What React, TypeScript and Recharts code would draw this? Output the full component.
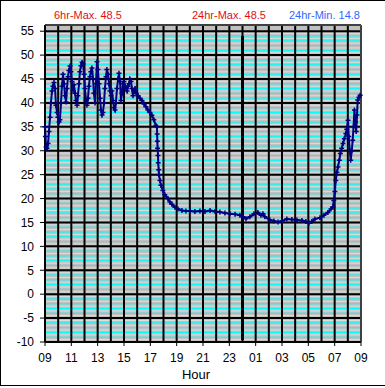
import React from "react";
import {
  LineChart,
  Line,
  XAxis,
  YAxis,
  CartesianGrid,
  ReferenceLine,
  Label,
} from "recharts";

// minutes since 09:00
const minutes = [
  0, 2, 5, 9, 14, 18, 23, 27, 32, 36, 41, 46, 50, 55, 59, 64, 68, 73, 77, 82,
  87, 91, 96, 100, 105, 109, 114, 118, 123, 128, 132, 137, 141, 146, 150, 155,
  159, 164, 169, 173, 178, 182, 187, 191, 196, 200, 205, 209, 214, 219, 223,
  228, 232, 237, 241, 246, 251, 255, 260, 264, 269, 273, 278, 282, 287, 292,
  296, 301, 305, 310, 314, 319, 323, 328, 333, 337, 342, 346, 351, 355, 360,
  365, 369, 374, 378, 383, 387, 392, 396, 401, 405, 410, 415, 424, 433, 442,
  451, 460, 469, 478, 487, 496, 505, 510, 511, 512, 513, 515, 516, 518, 519,
  524, 528, 537, 546, 560, 569, 578, 592, 606, 624, 642, 661, 683, 706, 729,
  752, 775, 797, 820, 843, 866, 888, 902, 916, 934, 952, 970, 984, 993, 1002,
  1025, 1043, 1062, 1080, 1102, 1125, 1148, 1171, 1189, 1203, 1216, 1230, 1253,
  1271, 1289, 1303, 1312, 1316, 1321, 1325, 1330, 1335, 1341, 1346, 1352, 1358,
  1364, 1371, 1375, 1381, 1384, 1389, 1393, 1398, 1402, 1406, 1410, 1415, 1418,
  1422, 1425, 1431, 1436,
];

const temps = [
  35.0, 33, 30.8, 30.5, 31.5, 34, 37, 40, 42.5, 43.5, 44.3, 43, 39.5, 38, 37,
  36, 36.5, 40, 43.5, 46, 44, 41.5, 40.2, 43, 45.5, 46.8, 47.7, 46.5, 44.5,
  42.6, 43.8, 42, 40.5, 39.5, 41.5, 44, 46.5, 47.8, 48.5, 48.2, 46, 43, 40.5,
  39.5, 41, 43.5, 45.5, 46.5, 47.3, 45, 42, 40, 44, 48.6, 47, 44, 41, 38.5,
  37.5, 38, 40, 43, 45.5, 47, 46, 44, 42.5, 41.5, 42.5, 40.5, 39, 38.5, 40, 43,
  45, 46.2, 44.5, 40.5, 42, 44, 44.5, 43.5, 43, 42.5, 43.5, 44, 45, 44.5, 43,
  41.5, 42.5, 43, 42, 41.5, 41, 40.5, 39.8, 39.2, 38.5, 38, 37.4, 36.5, 35.3,
  35, 33.5, 32, 30.5, 29, 27.5, 26, 25, 23.8, 22.8, 21.7, 20.8, 20, 19.3, 18.8,
  18.2, 17.8, 17.5, 17.4, 17.4, 17.3, 17.4, 17.3, 17.5, 17.3, 17.2, 17, 16.8,
  16.7, 16.5, 16.2, 15.8, 16.2, 16.8, 17.1, 16.5, 16.8, 16.2, 15.5, 15.3, 15.1,
  15.3, 15.7, 15.6, 15.5, 15.4, 15.2, 14.9, 15.2, 15.7, 16, 16.5, 17.1, 17.8,
  18.3, 19.6, 21.5, 23.8, 25.5, 26.6, 28, 29.4, 30.5, 31.5, 32.5, 33.6, 34.5,
  36.4, 33, 30, 28, 30, 32.2, 35, 38.5, 36, 34, 37.5, 40.6, 41.2, 41.6,
];

const hourTicks = [0, 120, 240, 360, 480, 600, 720, 840, 960, 1080, 1200, 1320, 1440];
const hourLabels = ["09", "11", "13", "15", "17", "19", "21", "23", "01", "03", "05", "07", "09"];
const hourGrid = Array.from({ length: 25 }, (_, i) => i * 60);

const yTicks = [-10, -5, 0, 5, 10, 15, 20, 25, 30, 35, 40, 45, 50, 55];
const yMax = 56.3;
const midnight = 900;

const cyanTicks: number[] = [];
const halfTicks: number[] = [];
for (let v = -10; v < 55; v++) {
  if (v % 5 !== 0) cyanTicks.push(v);
  halfTicks.push(v + 0.5);
}

const data = minutes.map((t, i) => ({ t, v: temps[i] }));

const PlusDot = (props: any) => {
  const { cx, cy, index } = props;
  if (cx == null || cy == null) return <g key={index} />;
  return (
    <path
      key={index}
      d={`M${cx - 2.5},${cy}H${cx + 2.5}M${cx},${cy - 2.5}V${cy + 2.5}`}
      stroke="#000080"
      strokeWidth={1.5}
      fill="none"
    />
  );
};

const MidnightLine = (props: any) => {
  const { x1, y1, x2, y2 } = props;
  return <line x1={x1} y1={y1 - 2} x2={x2} y2={y2 + 11} stroke="#000" strokeWidth={3} />;
};

const font = "'Liberation Sans', Arial, sans-serif";

const App = () => {
  return (
    <div
      style={{
        position: "absolute",
        left: 0,
        top: 0,
        width: 385,
        height: 388,
        background: "#fff",
        fontFamily: font,
      }}
    >
      <div
        style={{
          position: "absolute",
          left: 0,
          top: 0,
          width: 385,
          height: 386,
          borderLeft: "1px solid #000",
          borderTop: "1px solid #000",
          borderBottom: "1px solid #000",
          boxSizing: "border-box",
        }}
      />
      <svg width={385} height={30} style={{ position: "absolute", left: 0, top: 0 }}>
        <text x={54} y={19} fontSize={11} fill="#e01010" fontFamily={font}>
          6hr-Max. 48.5
        </text>
        <text x={192} y={19} fontSize={11} fill="#e01010" fontFamily={font}>
          24hr-Max. 48.5
        </text>
        <text x={289} y={19} fontSize={11} fill="#3366ff" fontFamily={font}>
          24hr-Min. 14.8
        </text>
      </svg>
      <div style={{ position: "absolute", left: 0, top: 0 }}>
        <LineChart
          width={385}
          height={388}
          data={data}
          margin={{ top: 25, right: 24, left: 5, bottom: 2 }}
        >
          <XAxis
            dataKey="t"
            type="number"
            domain={[0, 1440]}
            ticks={hourTicks}
            tickFormatter={(v: number) => hourLabels[hourTicks.indexOf(v)]}
            interval={0}
            height={44}
            tickSize={4}
            tickMargin={7}
            stroke="#000"
            tick={{ fill: "#000", fontSize: 12, fontFamily: font }}
            axisLine={{ stroke: "#000", strokeWidth: 1 }}
          >
            <Label
              value="Hour"
              position="insideBottom"
              offset={7}
              dx={-7}
              style={{ fill: "#000", fontSize: 13, fontFamily: font }}
            />
          </XAxis>
          <YAxis
            type="number"
            domain={[-10, yMax]}
            ticks={yTicks}
            interval={0}
            width={40}
            tickSize={5}
            tickMargin={6}
            stroke="#000"
            tick={{ fill: "#000", fontSize: 12, fontFamily: font }}
          />
          <CartesianGrid
            vertical={false}
            horizontalValues={halfTicks}
            fill="#c0c0c0"
            fillOpacity={1}
            stroke="#d8dede"
            strokeWidth={1}
          />
          <CartesianGrid
            vertical={false}
            horizontalValues={cyanTicks}
            stroke="#00ffff"
            strokeWidth={1}
          />
          <CartesianGrid verticalValues={hourGrid} stroke="#000" strokeWidth={2} />
          <ReferenceLine y={yMax} stroke="#808080" strokeWidth={1} />
          <ReferenceLine x={1440} stroke="#808080" strokeWidth={1} />
          <ReferenceLine x={midnight} shape={MidnightLine} />
          <Line
            type="linear"
            dataKey="v"
            stroke="#000080"
            strokeWidth={2}
            dot={PlusDot}
            activeDot={false}
            isAnimationActive={false}
          />
        </LineChart>
      </div>
    </div>
  );
};

export default App;
